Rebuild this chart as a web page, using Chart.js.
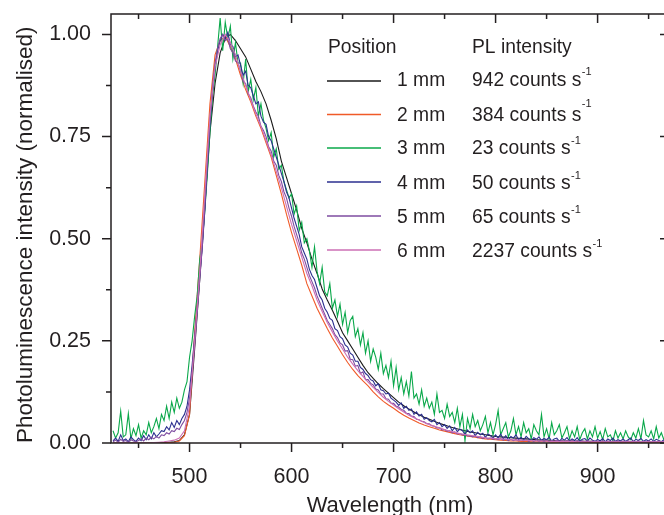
<!DOCTYPE html>
<html>
<head>
<meta charset="utf-8">
<script src="https://cdn.jsdelivr.net/npm/chart.js@4/dist/chart.umd.min.js"></script>
<style>
  html, body { margin: 0; padding: 0; background: #fff; overflow: hidden; }
  canvas { display: block; }
</style>
</head>
<body>
<canvas id="pl" width="690" height="515"></canvas>
<script>
// wavelength grids (nm): 5 nm for the smooth (bright) spectra, 2.5 nm for the noisy ones
const wavelength = [
  425, 430, 435, 440, 445, 450, 455, 460, 465, 470,
  475, 480, 485, 490, 495, 500, 505, 510, 515, 520,
  525, 530, 535, 540, 545, 550, 555, 560, 565, 570,
  575, 580, 585, 590, 595, 600, 605, 610, 615, 620,
  625, 630, 635, 640, 645, 650, 655, 660, 665, 670,
  675, 680, 685, 690, 695, 700, 705, 710, 715, 720,
  725, 730, 735, 740, 745, 750, 755, 760, 765, 770,
  775, 780, 785, 790, 795, 800, 805, 810, 815, 820,
  825, 830, 835, 840, 845, 850, 855, 860, 865, 870,
  875, 880, 885, 890, 895, 900, 905, 910, 915, 920,
  925, 930, 935, 940, 945, 950, 955, 960, 965
];
const wavelengthFine = [
  425, 427.5, 430, 432.5, 435, 437.5, 440, 442.5, 445, 447.5,
  450, 452.5, 455, 457.5, 460, 462.5, 465, 467.5, 470, 472.5,
  475, 477.5, 480, 482.5, 485, 487.5, 490, 492.5, 495, 497.5,
  500, 502.5, 505, 507.5, 510, 512.5, 515, 517.5, 520, 522.5,
  525, 527.5, 530, 532.5, 535, 537.5, 540, 542.5, 545, 547.5,
  550, 552.5, 555, 557.5, 560, 562.5, 565, 567.5, 570, 572.5,
  575, 577.5, 580, 582.5, 585, 587.5, 590, 592.5, 595, 597.5,
  600, 602.5, 605, 607.5, 610, 612.5, 615, 617.5, 620, 622.5,
  625, 627.5, 630, 632.5, 635, 637.5, 640, 642.5, 645, 647.5,
  650, 652.5, 655, 657.5, 660, 662.5, 665, 667.5, 670, 672.5,
  675, 677.5, 680, 682.5, 685, 687.5, 690, 692.5, 695, 697.5,
  700, 702.5, 705, 707.5, 710, 712.5, 715, 717.5, 720, 722.5,
  725, 727.5, 730, 732.5, 735, 737.5, 740, 742.5, 745, 747.5,
  750, 752.5, 755, 757.5, 760, 762.5, 765, 767.5, 770, 772.5,
  775, 777.5, 780, 782.5, 785, 787.5, 790, 792.5, 795, 797.5,
  800, 802.5, 805, 807.5, 810, 812.5, 815, 817.5, 820, 822.5,
  825, 827.5, 830, 832.5, 835, 837.5, 840, 842.5, 845, 847.5,
  850, 852.5, 855, 857.5, 860, 862.5, 865, 867.5, 870, 872.5,
  875, 877.5, 880, 882.5, 885, 887.5, 890, 892.5, 895, 897.5,
  900, 902.5, 905, 907.5, 910, 912.5, 915, 917.5, 920, 922.5,
  925, 927.5, 930, 932.5, 935, 937.5, 940, 942.5, 945, 947.5,
  950, 952.5, 955, 957.5, 960, 962.5, 965
];

// normalised PL, one array per position
const pos1mm = [
  0, 0, 0, 0, 0, 0, 0, 0, 0, 0.001,
  0.001, 0.002, 0.003, 0.006, 0.02, 0.07, 0.23, 0.40, 0.58, 0.76,
  0.88, 0.955, 0.99, 1.0, 0.985, 0.965, 0.945, 0.915, 0.885, 0.86,
  0.83, 0.79, 0.745, 0.69, 0.65, 0.61, 0.57, 0.525, 0.49, 0.45,
  0.415, 0.377, 0.35, 0.325, 0.298, 0.27, 0.25, 0.23, 0.21, 0.19,
  0.172, 0.158, 0.145, 0.133, 0.122, 0.111, 0.1, 0.091, 0.083, 0.076,
  0.069, 0.063, 0.058, 0.053, 0.048, 0.044, 0.04, 0.036, 0.033, 0.03,
  0.027, 0.025, 0.022, 0.02, 0.018, 0.016, 0.015, 0.014, 0.013, 0.012,
  0.011, 0.01, 0.009, 0.008, 0.007, 0.007, 0.006, 0.006, 0.005, 0.005,
  0.005, 0.004, 0.004, 0.004, 0.004, 0.003, 0.003, 0.003, 0.003, 0.003,
  0.003, 0.002, 0.002, 0.002, 0.002, 0.002, 0.002, 0.002, 0.002
];
const pos2mm = [
  0, 0, 0, 0, 0, 0, 0, 0, 0, 0,
  0, 0.001, 0.002, 0.005, 0.018, 0.07, 0.27, 0.45, 0.64, 0.83,
  0.95, 0.985, 0.995, 0.97, 0.94, 0.90, 0.865, 0.835, 0.80, 0.77,
  0.735, 0.70, 0.655, 0.61, 0.56, 0.515, 0.475, 0.435, 0.39, 0.36,
  0.33, 0.305, 0.28, 0.257, 0.237, 0.216, 0.197, 0.18, 0.165, 0.152,
  0.14, 0.125, 0.113, 0.102, 0.093, 0.085, 0.076, 0.068, 0.061, 0.055,
  0.049, 0.044, 0.04, 0.036, 0.032, 0.029, 0.026, 0.023, 0.02, 0.018,
  0.016, 0.014, 0.012, 0.01, 0.009, 0.008, 0.007, 0.006, 0.005, 0.005,
  0.004, 0.004, 0.003, 0.003, 0.003, 0.003, 0.002, 0.002, 0.002, 0.002,
  0.002, 0.002, 0.002, 0.001, 0.001, 0.001, 0.001, 0.001, 0.001, 0.001,
  0.001, 0.001, 0.001, 0.001, 0.001, 0.001, 0.001, 0.001, 0.001
];
const pos3mm = [
  0.03, 0.012, 0.025, 0.078, 0.015, 0.02, 0.072, 0.01, 0.035, 0.018,
  0.045, 0.012, 0.03, 0.02, 0.05, 0.025, 0.04, 0.06, 0.035, 0.07,
  0.055, 0.09, 0.06, 0.10, 0.075, 0.11, 0.085, 0.10, 0.13, 0.15,
  0.21, 0.25, 0.31, 0.36, 0.45, 0.49, 0.57, 0.66, 0.76, 0.85,
  0.90, 0.97, 1.04, 0.96, 1.03, 0.99, 1.02, 0.94, 0.98, 0.93,
  0.93, 0.88, 0.94, 0.86, 0.89, 0.84, 0.87, 0.80, 0.83, 0.79,
  0.77, 0.74, 0.76, 0.70, 0.72, 0.67, 0.68, 0.64, 0.62, 0.60,
  0.61, 0.56, 0.58, 0.52, 0.54, 0.49, 0.50, 0.47, 0.43, 0.48,
  0.42, 0.39, 0.43, 0.37, 0.36, 0.39, 0.33, 0.35, 0.31, 0.34,
  0.29, 0.32, 0.27, 0.30, 0.31, 0.26, 0.28, 0.24, 0.27, 0.22,
  0.25, 0.20, 0.23, 0.21, 0.18, 0.22, 0.17, 0.19, 0.16, 0.20,
  0.14, 0.185, 0.13, 0.16, 0.12, 0.15, 0.115, 0.175, 0.11, 0.12,
  0.095, 0.13, 0.09, 0.11, 0.085, 0.10, 0.07, 0.12, 0.075, 0.08,
  0.06, 0.095, 0.065, 0.075, 0.05, 0.085, 0.04, 0.07, 0.005, 0.06,
  0.035, 0.07, 0.04, 0.055, 0.03, 0.045, 0.065, 0.025, 0.05, 0.02,
  0.045, 0.08, 0.02, 0.035, 0.05, 0.015, 0.03, 0.06, 0.02, 0.04,
  0.015, 0.05, 0.025, 0.035, 0.01, 0.045, 0.03, 0.02, 0.07, 0.015,
  0.035, 0.01, 0.05, 0.02, 0.03, 0.045, 0.012, 0.025, 0.04, 0.01,
  0.03, 0.015, 0.04, 0.008, 0.025, 0.035, 0.01, 0.03, 0.015, 0.04,
  0.012, 0.028, 0.008, 0.035, 0.015, 0.02, 0.005, 0.03, 0.012, 0.025,
  0.01, 0.03, 0.015, 0.008, 0.025, 0.012, 0.035, 0.01, 0.055, 0.02,
  0.015, 0.03, 0.01, 0.04, 0.012, 0.025, 0.008
];
const pos4mm = [
  0.005, 0.012, 0.004, 0.02, 0.006, 0.01, 0.003, 0.015, 0.008, 0.004,
  0.012, 0.006, 0.018, 0.008, 0.02, 0.01, 0.025, 0.015, 0.022, 0.03,
  0.028, 0.04, 0.032, 0.05, 0.038, 0.055, 0.045, 0.06, 0.07, 0.09,
  0.13, 0.19, 0.26, 0.33, 0.41, 0.48, 0.57, 0.68, 0.78, 0.86,
  0.92, 0.96, 0.985, 1.0, 0.99, 1.005, 0.975, 0.97, 0.945, 0.95,
  0.925, 0.90, 0.91, 0.875, 0.87, 0.85, 0.83, 0.835, 0.80, 0.785,
  0.78, 0.75, 0.74, 0.72, 0.70, 0.68, 0.66, 0.64, 0.615, 0.60,
  0.575, 0.55, 0.53, 0.51, 0.48, 0.465, 0.45, 0.425, 0.41, 0.40,
  0.38, 0.36, 0.35, 0.33, 0.32, 0.305, 0.30, 0.28, 0.275, 0.26,
  0.255, 0.24, 0.235, 0.22, 0.215, 0.20, 0.20, 0.185, 0.18, 0.17,
  0.165, 0.155, 0.152, 0.14, 0.145, 0.13, 0.128, 0.12, 0.122, 0.11,
  0.105, 0.10, 0.092, 0.098, 0.085, 0.09, 0.08, 0.083, 0.07, 0.076,
  0.066, 0.07, 0.058, 0.062, 0.055, 0.052, 0.058, 0.045, 0.05, 0.04,
  0.045, 0.036, 0.042, 0.03, 0.038, 0.028, 0.034, 0.03, 0.022, 0.032,
  0.025, 0.03, 0.018, 0.026, 0.02, 0.024, 0.014, 0.022, 0.018, 0.012,
  0.02, 0.012, 0.022, 0.01, 0.018, 0.008, 0.016, 0.012, 0.02, 0.008,
  0.014, 0.007, 0.016, 0.01, 0.006, 0.013, 0.009, 0.015, 0.006, 0.011,
  0.008, 0.014, 0.005, 0.01, 0.012, 0.004, 0.011, 0.007, 0.013, 0.005,
  0.01, 0.006, 0.013, 0.004, 0.009, 0.011, 0.005, 0.012, 0.007, 0.004,
  0.009, 0.005, 0.011, 0.003, 0.01, 0.006, 0.012, 0.004, 0.008, 0.005,
  0.01, 0.004, 0.008, 0.012, 0.003, 0.009, 0.006, 0.011, 0.004, 0.008,
  0.005, 0.01, 0.004, 0.009, 0.006, 0.003, 0.008
];
const pos5mm = [
  0.003, 0.007, 0.002, 0.009, 0.004, 0.006, 0.002, 0.008, 0.005, 0.003,
  0.006, 0.01, 0.005, 0.012, 0.008, 0.014, 0.01, 0.016, 0.012, 0.02,
  0.018, 0.025, 0.022, 0.03, 0.028, 0.036, 0.033, 0.045, 0.055, 0.075,
  0.11, 0.17, 0.24, 0.32, 0.40, 0.48, 0.58, 0.69, 0.79, 0.87,
  0.93, 0.965, 0.99, 1.0, 0.985, 0.99, 0.965, 0.955, 0.935, 0.93,
  0.91, 0.885, 0.88, 0.855, 0.845, 0.825, 0.81, 0.80, 0.775, 0.765,
  0.75, 0.725, 0.715, 0.69, 0.68, 0.655, 0.64, 0.615, 0.60, 0.575,
  0.555, 0.53, 0.51, 0.49, 0.465, 0.45, 0.43, 0.41, 0.395, 0.38,
  0.36, 0.345, 0.33, 0.315, 0.30, 0.29, 0.28, 0.265, 0.258, 0.245,
  0.24, 0.225, 0.226, 0.205, 0.204, 0.188, 0.19, 0.17, 0.174, 0.155,
  0.155, 0.146, 0.142, 0.132, 0.13, 0.12, 0.12, 0.108, 0.107, 0.098,
  0.097, 0.09, 0.088, 0.082, 0.08, 0.073, 0.072, 0.066, 0.065, 0.058,
  0.057, 0.053, 0.052, 0.047, 0.047, 0.042, 0.041, 0.037, 0.037, 0.032,
  0.033, 0.029, 0.03, 0.025, 0.027, 0.022, 0.023, 0.02, 0.02, 0.017,
  0.018, 0.015, 0.017, 0.013, 0.015, 0.011, 0.014, 0.01, 0.012, 0.009,
  0.011, 0.008, 0.011, 0.007, 0.01, 0.006, 0.009, 0.006, 0.009, 0.005,
  0.008, 0.005, 0.008, 0.004, 0.007, 0.004, 0.008, 0.004, 0.007, 0.003,
  0.007, 0.003, 0.006, 0.004, 0.007, 0.003, 0.006, 0.003, 0.006, 0.002,
  0.006, 0.003, 0.006, 0.002, 0.005, 0.003, 0.006, 0.002, 0.005, 0.003,
  0.005, 0.002, 0.006, 0.002, 0.005, 0.002, 0.005, 0.003, 0.005, 0.002,
  0.005, 0.002, 0.005, 0.003, 0.005, 0.002, 0.005, 0.002, 0.004, 0.002,
  0.005, 0.002, 0.004, 0.002, 0.005, 0.002, 0.004
];
const pos6mm = [
  0, 0, 0, 0, 0, 0, 0, 0, 0.001, 0.002,
  0.003, 0.005, 0.007, 0.012, 0.03, 0.09, 0.25, 0.42, 0.61, 0.80,
  0.92, 0.975, 1.0, 0.98, 0.95, 0.91, 0.875, 0.84, 0.805, 0.775,
  0.74, 0.705, 0.665, 0.625, 0.58, 0.535, 0.495, 0.455, 0.415, 0.385,
  0.35, 0.322, 0.295, 0.272, 0.25, 0.23, 0.21, 0.193, 0.177, 0.163,
  0.149, 0.136, 0.124, 0.112, 0.102, 0.093, 0.084, 0.076, 0.068, 0.062,
  0.056, 0.05, 0.045, 0.041, 0.037, 0.033, 0.029, 0.026, 0.023, 0.021,
  0.019, 0.017, 0.015, 0.013, 0.012, 0.011, 0.01, 0.009, 0.008, 0.007,
  0.007, 0.006, 0.006, 0.005, 0.005, 0.005, 0.004, 0.004, 0.004, 0.004,
  0.004, 0.003, 0.003, 0.003, 0.003, 0.003, 0.003, 0.003, 0.003, 0.003,
  0.003, 0.003, 0.003, 0.003, 0.003, 0.003, 0.003, 0.003, 0.003
];

const positions = ['1 mm', '2 mm', '3 mm', '4 mm', '5 mm', '6 mm'];
const plIntensity = ['942', '384', '23', '50', '65', '2237'];
const series = [pos1mm, pos2mm, pos3mm, pos4mm, pos5mm, pos6mm];
const grids = [wavelength, wavelength, wavelengthFine, wavelengthFine, wavelengthFine, wavelength];
const colors = ['#1a1a1a', '#f05a28', '#0aa84a', '#2b2f8f', '#7e4ca0', '#cc6fb4'];

const xTicks = [500, 600, 700, 800, 900];
const xMinorTicks = [450, 550, 650, 750, 850, 950];
const yTicks = [0, 0.25, 0.5, 0.75, 1.0];
const yMinorTicks = [0.125, 0.375, 0.625, 0.875];

const ink = '#231f20';
const font = "'Liberation Sans', Arial, Helvetica, sans-serif";

const axesAndKey = {
  id: 'axesAndKey',
  afterDraw(chart) {
    const { ctx, chartArea: a, scales: { x, y } } = chart;
    ctx.save();
    ctx.strokeStyle = ink;
    ctx.lineWidth = 1.5;
    ctx.strokeRect(a.left, a.top, a.right - a.left, a.bottom - a.top);

    ctx.beginPath();
    const xt = (v, len) => {
      const px = x.getPixelForValue(v);
      ctx.moveTo(px, a.bottom); ctx.lineTo(px, a.bottom + len);
      ctx.moveTo(px, a.top); ctx.lineTo(px, a.top + len);
    };
    const yt = (v, len) => {
      const py = y.getPixelForValue(v);
      ctx.moveTo(a.left, py); ctx.lineTo(a.left - len, py);
      ctx.moveTo(a.right, py); ctx.lineTo(a.right - len, py);
    };
    xTicks.forEach(v => xt(v, 9));
    xMinorTicks.forEach(v => xt(v, 5));
    yTicks.forEach(v => yt(v, 9));
    yMinorTicks.forEach(v => yt(v, 5));
    ctx.stroke();

    // key: two-column table
    ctx.fillStyle = ink;
    ctx.textBaseline = 'alphabetic';
    ctx.font = '19.3px ' + font;
    ctx.fillText('Position', 328, 53);
    ctx.fillText('PL intensity', 472, 53);
    const lineY = [81, 114.5, 148, 182, 216, 250];
    const base = [85.5, 120.5, 153.5, 189, 222.5, 257];
    const supRaise = [10.5, 13.5, 10, 10, 10, 10];
    positions.forEach((p, i) => {
      ctx.strokeStyle = colors[i];
      ctx.lineWidth = 1.5;
      ctx.beginPath();
      ctx.moveTo(327, lineY[i]); ctx.lineTo(381, lineY[i]);
      ctx.stroke();
      ctx.font = '19.3px ' + font;
      ctx.fillText(p, 397, base[i]);
      const txt = plIntensity[i] + ' counts s';
      ctx.fillText(txt, 472, base[i]);
      const w = ctx.measureText(txt).width;
      ctx.font = '11px ' + font;
      ctx.fillText('-1', 472 + w + 0.5, base[i] - supRaise[i]);
    });
    ctx.restore();
  }
};

new Chart(document.getElementById('pl'), {
  type: 'line',
  data: {
    datasets: series.map((s, i) => ({
      label: positions[i],
      data: grids[i].map((w, j) => ({ x: w, y: s[j] })),
      borderColor: colors[i],
      borderWidth: 1.1,
      pointRadius: 0,
      tension: 0,
      fill: false,
      order: series.length - i,
    })),
  },
  options: {
    responsive: false,
    animation: false,
    devicePixelRatio: 1,
    layout: { padding: { top: 14, right: 21, left: 0, bottom: 0 } },
    plugins: { legend: { display: false }, tooltip: { enabled: false } },
    scales: {
      x: {
        type: 'linear',
        min: 423,
        max: 970,
        afterBuildTicks: s => { s.ticks = xTicks.map(v => ({ value: v })); },
        afterFit: s => { s.height = 72; s.paddingLeft = 0; s.paddingRight = 0; },
        grid: { display: false, drawTicks: false },
        border: { display: false },
        ticks: { color: ink, font: { family: font, size: 21.5 }, padding: 21, maxRotation: 0 },
        title: {
          display: true,
          text: 'Wavelength (nm)',
          color: ink,
          font: { family: font, size: 22, lineHeight: 0.85 },
          padding: { top: 0, bottom: 0 },
        },
      },
      y: {
        min: 0,
        max: 1.05,
        afterBuildTicks: s => { s.ticks = yTicks.map(v => ({ value: v })); },
        afterFit: s => { s.width = 111; s.paddingTop = 0; s.paddingBottom = 0; },
        grid: { display: false, drawTicks: false },
        border: { display: false },
        ticks: { color: ink, font: { family: font, size: 21.5 }, padding: 20, callback: v => v.toFixed(2) },
        title: {
          display: true,
          text: 'Photoluminescence intensity (normalised)',
          align: 'start',
          color: ink,
          font: { family: font, size: 22.5 },
          padding: { top: 12, bottom: 0 },
        },
      },
    },
  },
  plugins: [axesAndKey],
});
</script>
</body>
</html>
